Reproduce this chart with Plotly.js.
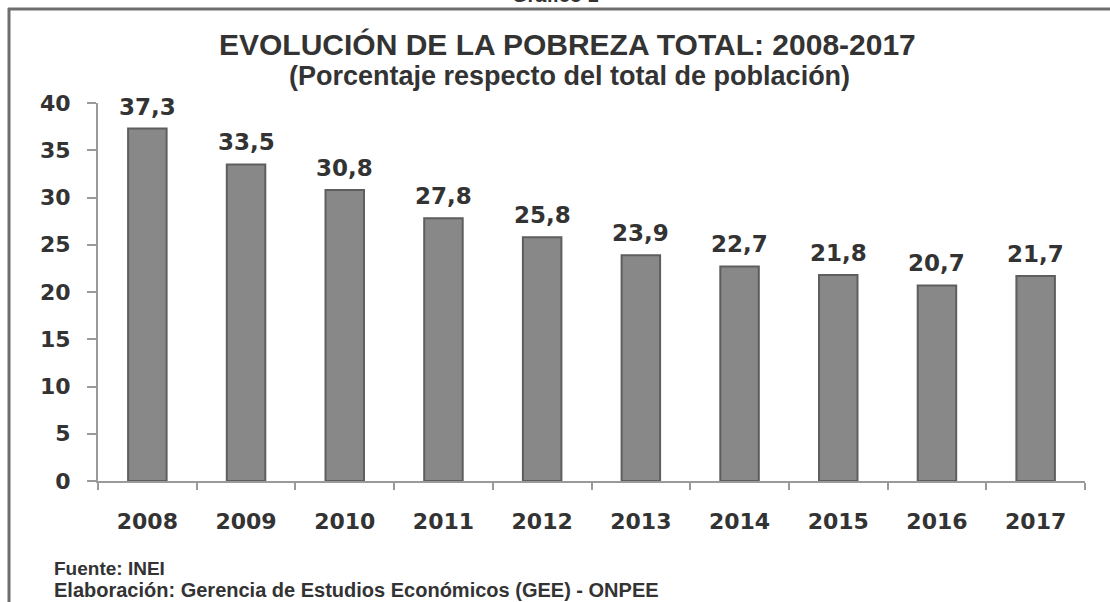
<!DOCTYPE html>
<html>
<head>
<meta charset="utf-8">
<script src="https://cdn.plot.ly/plotly-3.0.1.min.js"></script>
<style>
html,body{margin:0;padding:0;background:#fff;}
#chart{width:1110px;height:602px;}
</style>
</head>
<body>
<div id="chart"></div>
<script>
var years = ['2008','2009','2010','2011','2012','2013','2014','2015','2016','2017'];
var poverty = [37.3, 33.5, 30.8, 27.8, 25.8, 23.9, 22.7, 21.8, 20.7, 21.7];
var valueLabels = ['37,3','33,5','30,8','27,8','25,8','23,9','22,7','21,8','20,7','21,7'];
var yTicks = [0,5,10,15,20,25,30,35,40];

var trace = {
  type: 'bar',
  x: years,
  y: poverty,
  marker: {color: '#888888', line: {color: '#5e5e5e', width: 2}},
  width: 0.39,
  hoverinfo: 'none'
};

var W = 1110, H = 602, L = 98, R = 25, T = 103, B = 121;
var pw = W - L - R, ph = H - T - B;
function px(x){ return (x - L) / pw; }
function py(y){ return (H - B - y) / ph; }

var annotations = [
  {text: 'Gráfico 1', xref: 'paper', yref: 'paper', x: px(555), y: py(-5), showarrow: false,
   xanchor: 'center', yanchor: 'middle', font: {family: 'Liberation Sans', size: 20, color: '#333', weight: 'bold'}},
  {text: 'EVOLUCIÓN DE LA POBREZA TOTAL: 2008-2017', xref: 'paper', yref: 'paper', x: px(567), y: py(44),
   showarrow: false, xanchor: 'center', yanchor: 'middle',
   font: {family: 'Liberation Sans', size: 30, color: '#333333', weight: 'bold'}},
  {text: '(Porcentaje respecto del total de población)', xref: 'paper', yref: 'paper', x: px(569), y: py(76),
   showarrow: false, xanchor: 'center', yanchor: 'middle',
   font: {family: 'Liberation Sans', size: 27, color: '#333333', weight: 'bold'}},
  {text: 'Fuente: INEI', xref: 'paper', yref: 'paper', x: px(52), y: py(568),
   showarrow: false, xanchor: 'left', yanchor: 'middle',
   font: {family: 'Liberation Sans', size: 19, color: '#333333', weight: 'bold'}},
  {text: 'Elaboración: Gerencia de Estudios Económicos (GEE) - ONPEE', xref: 'paper', yref: 'paper', x: px(52), y: py(590),
   showarrow: false, xanchor: 'left', yanchor: 'middle',
   font: {family: 'Liberation Sans', size: 20, color: '#333333', weight: 'bold'}}
];
for (var i = 0; i < years.length; i++) {
  annotations.push({
    text: valueLabels[i], x: i, y: poverty[i], xref: 'x', yref: 'y',
    showarrow: false, xanchor: 'center', yanchor: 'bottom', yshift: 7,
    font: {family: 'DejaVu Sans', size: 23, color: '#333333', weight: 'bold'}
  });
}

var layout = {
  width: W, height: H,
  margin: {l: L, r: R, t: T, b: B, pad: 0},
  paper_bgcolor: '#ffffff',
  plot_bgcolor: '#ffffff',
  showlegend: false,
  xaxis: {
    type: 'category',
    range: [-0.5, 9.5],
    showline: true, linecolor: '#9a9a9a', linewidth: 2,
    ticks: 'outside', tickson: 'boundaries', ticklen: 7, tickcolor: '#9a9a9a', tickwidth: 2,
    showgrid: false, zeroline: false,
    tickfont: {family: 'DejaVu Sans', size: 22, color: '#333333', weight: 'bold'},
    ticklabelstandoff: 20
  },
  yaxis: {
    range: [0, 40],
    tickvals: yTicks,
    ticktext: yTicks.map(String),
    showline: true, linecolor: '#9a9a9a', linewidth: 2,
    ticks: 'outside', ticklen: 9, tickcolor: '#9a9a9a', tickwidth: 2,
    showgrid: false, zeroline: false,
    tickfont: {family: 'DejaVu Sans', size: 22, color: '#333333', weight: 'bold'},
    ticklabelstandoff: 12
  },
  annotations: annotations,
  shapes: [
    {type: 'line', xref: 'paper', yref: 'paper', x0: px(8), x1: px(1112), y0: py(9), y1: py(9),
     line: {color: '#6e6e6e', width: 3}},
    {type: 'line', xref: 'paper', yref: 'paper', x0: px(9), x1: px(9), y0: py(8), y1: py(604),
     line: {color: '#6e6e6e', width: 3}},
    {type: 'line', xref: 'paper', yref: 'paper', x0: px(88), x1: px(98), y0: py(481), y1: py(481),
     line: {color: '#9a9a9a', width: 2}}
  ]
};

Plotly.newPlot('chart', [trace], layout, {displayModeBar: false, staticPlot: true});
</script>
</body>
</html>
